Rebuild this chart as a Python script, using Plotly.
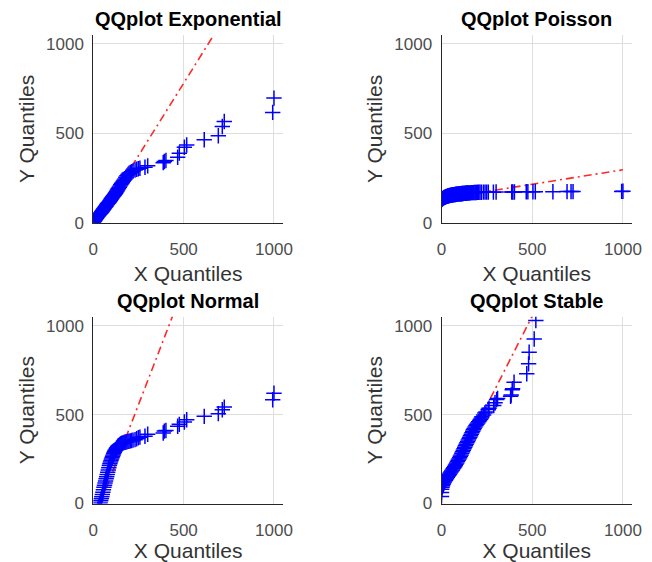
import plotly.graph_objects as go

# ---------------- data ----------------
# sorted sample quantiles shared by the Exponential / Poisson / Normal panels
x_sample = [0, 2, 5, 8, 11, 14, 17, 20, 23, 26, 29, 32, 35, 38, 41, 44, 47, 50, 53, 56,
            59, 62, 65, 68, 71, 74, 77, 80, 83, 86, 89, 92, 95, 98, 101, 104, 107, 110, 113, 116,
            119, 122, 125, 128, 131, 134, 137, 140, 144, 148, 152, 156, 160, 165, 170, 175, 180, 186, 192, 198,
            205, 212, 220, 231, 240, 249, 258, 286, 301, 387, 393, 402, 467, 476, 504, 517, 614, 692, 714, 725,
            993, 1000]

y_exponential = [0, 3, 8, 13, 17, 21, 25, 29, 33, 37, 40, 44, 47, 51, 54, 57, 61, 65, 70, 74,
                 78, 82, 86, 90, 94, 99, 103, 107, 110, 113, 117, 121, 126, 131, 135, 140, 144, 148, 151, 155,
                 159, 164, 168, 173, 178, 183, 188, 193, 199, 206, 212, 218, 224, 230, 237, 244, 254, 262, 270, 277,
                 281, 285, 289, 295, 299, 302, 305, 310, 318, 336, 342, 348, 366, 389, 422, 435, 464, 486, 538, 566,
                 617, 697]

y_poisson = [128, 131, 134, 136, 138, 140, 142, 143, 145, 146, 147, 148, 149, 150, 151, 152, 153, 153, 154, 155,
             155, 156, 156, 157, 157, 158, 158, 159, 159, 160, 160, 160, 161, 161, 161, 162, 162, 162, 163, 163,
             163, 164, 164, 164, 165, 165, 165, 166, 166, 166, 167, 167, 167, 168, 168, 168, 169, 169, 169, 170,
             170, 170, 170, 171, 171, 171, 171, 171, 172, 172, 172, 172, 173, 173, 173, 173, 173, 174, 174, 174,
             175, 176]

y_normal = [-170, -150, -130, -110, -92, -78, -65, -53, -42, -32, -22, -13, -5, 3, 15, 26, 38, 50, 63, 77,
            91, 103, 115, 127, 139, 151, 163, 175, 188, 201, 213, 223, 233, 242, 250, 258, 266, 273, 281, 288,
            294, 299, 304, 309, 314, 318, 322, 325, 329, 332, 335, 337, 339, 341, 343, 344, 346, 347, 349, 350,
            352, 354, 356, 359, 364, 370, 373, 378, 389, 396, 407, 410, 434, 445, 458, 471, 490, 505, 527, 542,
            583, 620]

# Stable panel quantiles
x_stable = [0, 0, 1, 3, 6, 9, 12, 15, 18, 21, 24, 28, 32, 36, 40, 44, 48, 52, 56, 60,
            64, 68, 72, 76, 80, 84, 88, 92, 96, 100, 104, 108, 112, 116, 120, 124, 128, 132, 136, 140,
            144, 148, 152, 156, 160, 164, 168, 172, 176, 180, 185, 190, 195, 200, 205, 210, 215, 220,
            223, 232, 239, 245, 257, 262, 288, 295, 304, 309, 381, 384, 390, 392, 400, 470, 480, 483, 511, 520]
y_stable = [40, 62, 80, 92, 100, 108, 115, 121, 127, 131, 135, 141, 147, 153, 159, 165, 171, 177, 183, 189,
            195, 201, 207, 214, 221, 228, 236, 243, 250, 257, 265, 273, 282, 291, 300, 308, 316, 325, 333, 341,
            349, 357, 365, 373, 381, 389, 398, 406, 414, 422, 430, 438, 446, 453, 460, 467, 474, 481,
            488, 497, 509, 515, 528, 535, 551, 566, 584, 590, 603, 610, 640, 645, 682, 729, 785, 850, 925, 1028]

# reference (quartile) lines: endpoints in data units
line_exp_x, line_exp_y = [0, 1000], [-30, 1590]
line_poi_x, line_poi_y = [0, 1000], [134, 296]
line_nor_x, line_nor_y = [0, 1000], [-105, 2535]
line_sta_x, line_sta_y = [0, 520], [49, 1094]

titles = ["QQplot Exponential", "QQplot Poisson", "QQplot Normal", "QQplot Stable"]
tick_vals = [0, 500, 1000]
tick_text = ["0", "500", "1000"]

panels = [
    (x_sample, y_exponential, line_exp_x, line_exp_y),
    (x_sample, y_poisson, line_poi_x, line_poi_y),
    (x_sample, y_normal, line_nor_x, line_nor_y),
    (x_stable, y_stable, line_sta_x, line_sta_y),
]

# ---------------- layout geometry ----------------
# the page body has an 8px margin, so the figure is drawn 8px in from the corner
OFF = 8
W, H = 652 - OFF, 562 - OFF


def px_x(p):
    return (p - OFF) / W


def px_y(p):
    return (H - (p - OFF)) / H


x_domains = [[px_x(93.3), px_x(283)], [px_x(441.5), px_x(632)]]
y_domains = [[px_y(222.7), px_y(35)], [px_y(503.5), px_y(316.7)]]

FONT = "Liberation Sans, Arial, Helvetica, sans-serif"

fig = go.Figure()
layout = dict(
    width=W, height=H,
    margin=dict(l=0, r=0, t=0, b=0, pad=0, autoexpand=False),
    paper_bgcolor="white", plot_bgcolor="white",
    showlegend=False,
    font=dict(family=FONT),
)

annotations = []
for i, (xs, ys, lx, ly) in enumerate(panels):
    n = i + 1
    xa = "x" if n == 1 else f"x{n}"
    ya = "y" if n == 1 else f"y{n}"
    fig.add_trace(go.Scatter(x=lx, y=ly, mode="lines", xaxis=xa, yaxis=ya,
                             line=dict(color="rgb(255,40,40)", width=1.6, dash="8px,4px,2px,4px"),
                             hoverinfo="skip"))
    fig.add_trace(go.Scatter(x=xs, y=ys, mode="markers", xaxis=xa, yaxis=ya,
                             marker=dict(symbol="cross-thin", size=11,
                                         line=dict(color="#0000FF", width=1.5), color="#0000FF")))
    row, col = divmod(i, 2)
    axis_common = dict(range=[0, 1050], tickvals=tick_vals, ticktext=tick_text,
                       showgrid=True, gridcolor="#dedede", gridwidth=1,
                       zeroline=False, showline=True, linecolor="#262626", linewidth=1,
                       ticks="", tickfont=dict(size=17, color="#4d4d4d", family=FONT),
                       automargin=False, fixedrange=True)
    xkey = "xaxis" if n == 1 else f"xaxis{n}"
    ykey = "yaxis" if n == 1 else f"yaxis{n}"
    layout[xkey] = dict(axis_common, domain=x_domains[col], anchor=ya,
                        ticklabelstandoff=11,
                        title=dict(text="X Quantiles", font=dict(size=21, color="#333333", family=FONT),
                                   standoff=8))
    layout[ykey] = dict(axis_common, domain=y_domains[row], anchor=xa,
                        ticklabelstandoff=5,
                        title=dict(text="Y Quantiles", font=dict(size=21, color="#333333", family=FONT),
                                   standoff=5))
    xd = x_domains[col]
    yd = y_domains[row]
    annotations.append(dict(text=f"<b>{titles[i]}</b>", x=(xd[0] + xd[1]) / 2, y=yd[1],
                            xref="paper", yref="paper", xanchor="center", yanchor="bottom",
                            yshift=3, showarrow=False,
                            font=dict(size=20, color="black", family=FONT)))

layout["annotations"] = annotations
fig.update_layout(**layout)
fig.write_html("out.html")
